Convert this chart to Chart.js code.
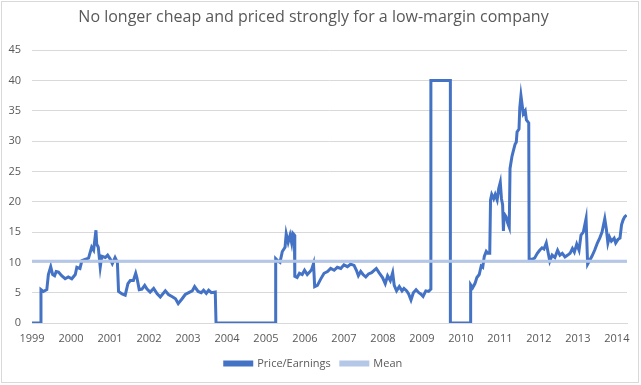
<!doctype html>
<html lang="en">
  <head>
    <meta charset="utf-8">
    <title>No longer cheap</title>
    <style>
      * { margin: 0; padding: 0; }
      body { background: #fff; }
    </style>
  </head>
  <body>
    <canvas id="myChart" width="641" height="385"></canvas>
    <script src="https://cdn.jsdelivr.net/npm/chart.js"></script>
    <script>
    // tick labels
    const yearTicks = [1999, 2000, 2001, 2002, 2003, 2004, 2005, 2006, 2007, 2008, 2009, 2010, 2011, 2012, 2013, 2014];

    // dates as decimal years
    const years = [
      1999.00, 1999.23, 1999.23, 1999.29, 1999.38, 1999.42, 1999.48, 1999.53, 1999.58, 1999.62,
      1999.68, 1999.76, 1999.85, 1999.93, 2000.02, 2000.11, 2000.15, 2000.23, 2000.28, 2000.36,
      2000.45, 2000.53, 2000.58, 2000.64, 2000.66, 2000.70, 2000.75, 2000.79, 2000.88, 2000.94,
      2001.01, 2001.06, 2001.13, 2001.19, 2001.22, 2001.31, 2001.39, 2001.46, 2001.52, 2001.60,
      2001.66, 2001.69, 2001.75, 2001.82, 2001.89, 2001.95, 2002.03, 2002.12, 2002.21, 2002.29,
      2002.42, 2002.50, 2002.61, 2002.68, 2002.75, 2002.85, 2002.93, 2003.02, 2003.11, 2003.17,
      2003.26, 2003.34, 2003.40, 2003.47, 2003.53, 2003.60, 2003.70, 2003.72, 2005.25, 2005.25,
      2005.31, 2005.36, 2005.42, 2005.49, 2005.52, 2005.57, 2005.62, 2005.66, 2005.69, 2005.73,
      2005.74, 2005.80, 2005.86, 2005.93, 2005.99, 2006.06, 2006.12, 2006.17, 2006.22, 2006.25,
      2006.32, 2006.40, 2006.49, 2006.58, 2006.66, 2006.75, 2006.83, 2006.92, 2007.00, 2007.09,
      2007.17, 2007.26, 2007.32, 2007.37, 2007.43, 2007.49, 2007.56, 2007.63, 2007.71, 2007.83,
      2007.90, 2007.99, 2008.06, 2008.12, 2008.19, 2008.25, 2008.29, 2008.35, 2008.42, 2008.49,
      2008.54, 2008.61, 2008.66, 2008.72, 2008.78, 2008.85, 2008.92, 2008.97, 2009.03, 2009.10,
      2009.17, 2009.23, 2009.23, 2009.73, 2009.73, 2010.25, 2010.25, 2010.30, 2010.36, 2010.41,
      2010.47, 2010.52, 2010.56, 2010.60, 2010.65, 2010.69, 2010.74, 2010.76, 2010.79, 2010.84,
      2010.88, 2010.93, 2010.97, 2011.01, 2011.04, 2011.07, 2011.09, 2011.11, 2011.16, 2011.20,
      2011.24, 2011.26, 2011.31, 2011.35, 2011.39, 2011.42, 2011.44, 2011.49, 2011.51, 2011.54,
      2011.57, 2011.60, 2011.65, 2011.68, 2011.74, 2011.75, 2011.82, 2011.89, 2011.96, 2012.02,
      2012.08, 2012.13, 2012.19, 2012.24, 2012.28, 2012.34, 2012.41, 2012.48, 2012.54, 2012.60,
      2012.67, 2012.74, 2012.80, 2012.86, 2012.91, 2012.97, 2013.03, 2013.08, 2013.14, 2013.21,
      2013.25, 2013.30, 2013.36, 2013.43, 2013.50, 2013.56, 2013.62, 2013.69, 2013.73, 2013.77,
      2013.81, 2013.86, 2013.93, 2013.97, 2014.03, 2014.08, 2014.12, 2014.16, 2014.20, 2014.25
    ];

    const priceEarnings = [
      0, 0, 5.5, 5.2, 5.5, 8.0, 9.3, 8.0, 7.8, 8.5,
      8.4, 7.8, 7.3, 7.6, 7.3, 8.0, 9.2, 9.0, 10.3, 10.5,
      10.7, 12.5, 12.0, 15.3, 13.0, 12.5, 9.2, 11.0, 10.8, 11.2,
      10.5, 9.8, 10.8, 10.0, 5.2, 4.8, 4.6, 6.5, 7.0, 7.0,
      8.2, 7.5, 5.5, 5.6, 6.2, 5.6, 5.1, 5.7, 4.8, 4.3,
      5.3, 4.7, 4.3, 4.0, 3.2, 4.0, 4.7, 5.0, 5.3, 6.0,
      5.2, 5.0, 5.4, 4.9, 5.4, 5.0, 5.1, 0, 0, 10.6,
      10.2, 10.0, 11.8, 12.5, 14.7, 13.3, 14.5, 13.2, 14.8, 14.5,
      7.7, 7.5, 8.2, 8.0, 8.7, 8.0, 8.4, 8.8, 9.8, 6.0,
      6.2, 7.2, 8.2, 8.5, 9.0, 8.7, 9.2, 9.0, 9.6, 9.3,
      9.7, 9.5, 8.7, 7.8, 8.5, 8.0, 7.6, 8.1, 8.3, 9.0,
      8.3, 7.5, 6.5, 7.8, 7.0, 8.3, 6.2, 5.3, 6.0, 5.3,
      5.7, 5.3, 4.8, 3.8, 5.0, 5.5, 5.0, 4.8, 4.4, 5.3,
      5.2, 5.6, 40, 40, 0, 0, 6.3, 5.8, 6.5, 7.5,
      8.0, 9.4, 9.2, 11.0, 11.8, 11.5, 11.5, 20.3, 21.2, 20.5,
      21.2, 20.3, 22.2, 23.2, 20.5, 19.5, 15.2, 18.0, 17.5, 16.5,
      15.8, 25.5, 27.5, 28.5, 29.5, 29.8, 31.5, 32.0, 35.5, 37.5,
      36.0, 34.5, 35.0, 33.5, 33.0, 10.6, 10.5, 10.7, 11.5, 12.0,
      12.4, 12.2, 13.2, 11.5, 10.2, 11.2, 10.8, 12.0, 11.2, 11.5,
      10.9, 11.2, 11.5, 12.3, 11.7, 13.0, 12.0, 14.5, 15.0, 17.2,
      9.7, 10.3, 11.0, 12.0, 13.2, 14.0, 15.0, 17.2, 15.5, 13.2,
      14.2, 13.5, 14.0, 13.2, 13.8, 14.0, 16.2, 17.0, 17.5, 17.8
    ];

    const meanValue = 10.2;
    const xStart = 1999;
    const xEnd = 2014.26;

    const peColor = '#4472C4';
    const meanColor = '#B4C7E7';
    const textColor = '#595959';

    // white background + thin chart border like Excel
    const chartFrame = {
      id: 'chartFrame',
      beforeDraw(chart) {
        const ctx = chart.ctx;
        ctx.save();
        ctx.fillStyle = '#fff';
        ctx.fillRect(0, 0, chart.width, chart.height);
        ctx.strokeStyle = '#d9d9d9';
        ctx.lineWidth = 1;
        ctx.strokeRect(1.5, 1.5, chart.width - 4, chart.height - 4);
        ctx.restore();
      }
    };

    const data = {
      datasets: [{
        label: 'Price/Earnings',
        data: years.map((x, i) => ({ x: x, y: priceEarnings[i] })),
        borderColor: peColor,
        backgroundColor: peColor,
        borderWidth: 3,
        pointRadius: 0,
        tension: 0,
        order: 2
      }, {
        label: 'Mean',
        data: [{ x: xStart, y: meanValue }, { x: xEnd, y: meanValue }],
        borderColor: meanColor,
        backgroundColor: meanColor,
        borderWidth: 3,
        pointRadius: 0,
        order: 1
      }]
    };

    const config = {
      type: 'line',
      data,
      plugins: [chartFrame],
      options: {
        responsive: false,
        animation: false,
        layout: { padding: { left: 0, right: 14, top: 0, bottom: 6 } },
        plugins: {
          title: {
            display: true,
            text: 'No longer cheap and priced strongly for a low-margin company',
            color: textColor,
            font: { family: 'Open Sans', size: 16, weight: 'normal' },
            padding: { top: 8, bottom: 23 }
          },
          legend: {
            position: 'bottom',
            labels: {
              color: textColor,
              font: { family: 'Open Sans', size: 11 },
              boxWidth: 27,
              boxHeight: 3,
              padding: 10,
              sort: (a, b) => a.datasetIndex - b.datasetIndex
            }
          },
          tooltip: { enabled: false }
        },
        scales: {
          x: {
            type: 'linear',
            min: xStart,
            max: xEnd,
            afterBuildTicks: (scale) => { scale.ticks = yearTicks.map(v => ({ value: v })); },
            afterFit: (scale) => { scale.height = 25; },
            ticks: {
              color: textColor,
              font: { family: 'Open Sans', size: 11 },
              padding: 9,
              maxRotation: 0,
              autoSkip: false,
              callback: (v) => String(v)
            },
            grid: { display: false, drawTicks: false },
            border: { color: '#d9d9d9' }
          },
          y: {
            min: 0,
            max: 45,
            afterFit: (scale) => { scale.width = 32; },
            ticks: {
              stepSize: 5,
              color: textColor,
              font: { family: 'Open Sans', size: 11 },
              padding: 11
            },
            grid: { color: '#d9d9d9', drawTicks: false },
            border: { display: false }
          }
        }
      }
    };

    const myChart = new Chart(document.getElementById('myChart'), config);
    </script>
  </body>
</html>
